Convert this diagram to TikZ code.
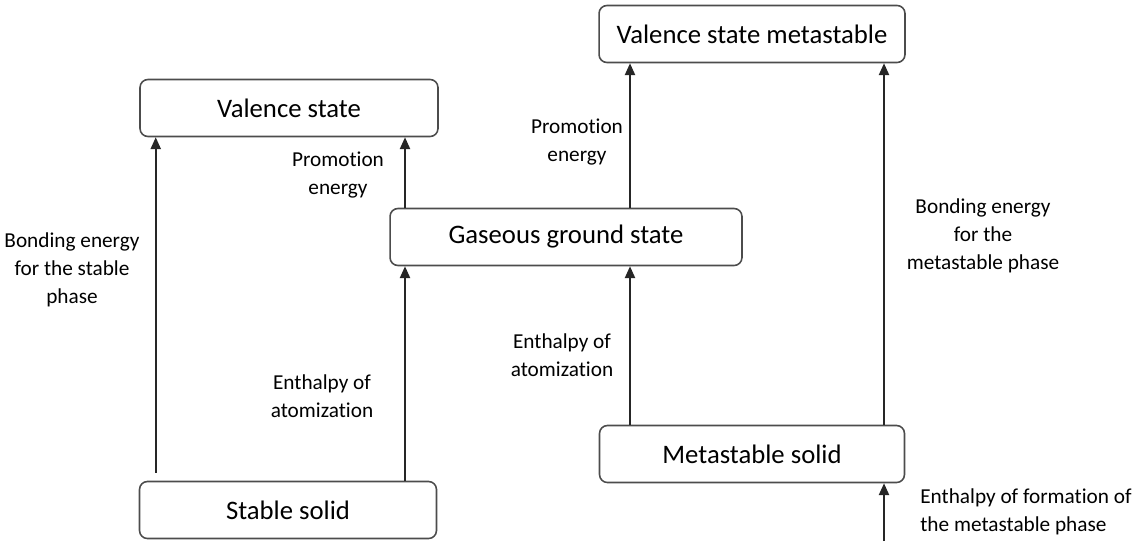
\documentclass[tikz,border=0pt]{standalone}
\usepackage{fontspec}
\setmainfont{Carlito}[Ligatures=NoCommon]
\usetikzlibrary{arrows.meta}
\tikzset{state/.style={ % boxes for the states
			draw=black!70,
			rounded corners=4.5pt,
			line width=0.9pt,
			minimum height=1.14cm,
			inner sep=0pt,
			font=\fontsize{15.2}{17}\selectfont},
		lbl/.style={align=center, inner sep=0pt, font=\fontsize{12.1}{15.8}\selectfont},
		flow/.style={draw=black!85, line width=1.1pt, -{Triangle[width=5.8pt,length=6.8pt]}}}

\begin{document}
\begin{tikzpicture}[x=0.02cm, y=-0.02cm]
			\useasboundingbox (0,0) rectangle (1145,544);
			\node[state, minimum width=5.96cm] (VS) at (289,108) {Valence state};
			\node[state, minimum width=6.12cm] (VSM) at (752,34) {Valence state metastable};
			\node[state, minimum width=7.04cm] (G) at (566,237) {Gaseous ground state};
			\node[state, minimum width=5.94cm] (SS) at (288,510) {Stable solid};
			\node[state, minimum width=6.10cm] (MS) at (752,454) {Metastable solid};
			
			\coordinate (SSa) at ([xshift=0.34cm,yshift=0.16cm]SS.north west);
			\coordinate (MSin) at (884,541);
			
			\draw[flow] (SSa) -- (SSa |- VS.south);
			\draw[flow] (SS.north -| 405,0) -- (G.south -| 405,0);
			\draw[flow] (G.north -| 405,0) -- (VS.south -| 405,0);
			\draw[flow] (MS.north -| 630,0) -- (G.south -| 630,0);
			\draw[flow] (G.north -| 630,0) -- (VSM.south -| 630,0);
			\draw[flow] (MS.north -| 884,0) -- (VSM.south -| 884,0);
			\draw[flow] (MSin) -- (MS.south -| MSin);
			
			\node[lbl] (bs) at (72,270) {Bonding energy\\for the stable\\phase};
			\node[lbl] (p1) at (338,175) {Promotion\\energy};
			\node[lbl] (a1) at (322,396) {Enthalpy of\\atomization};
			\node[lbl] (p2) at (577,142) {Promotion\\energy};
			\node[lbl] (a2) at (562,355) {Enthalpy of\\atomization};
			\node[lbl] (bm) at (983,236) {Bonding energy\\for the\\metastable phase};
			\node[lbl, anchor=west, align=left] (f) at (920,512) {Enthalpy of formation of\\the metastable phase};
		\end{tikzpicture}
\end{document}
